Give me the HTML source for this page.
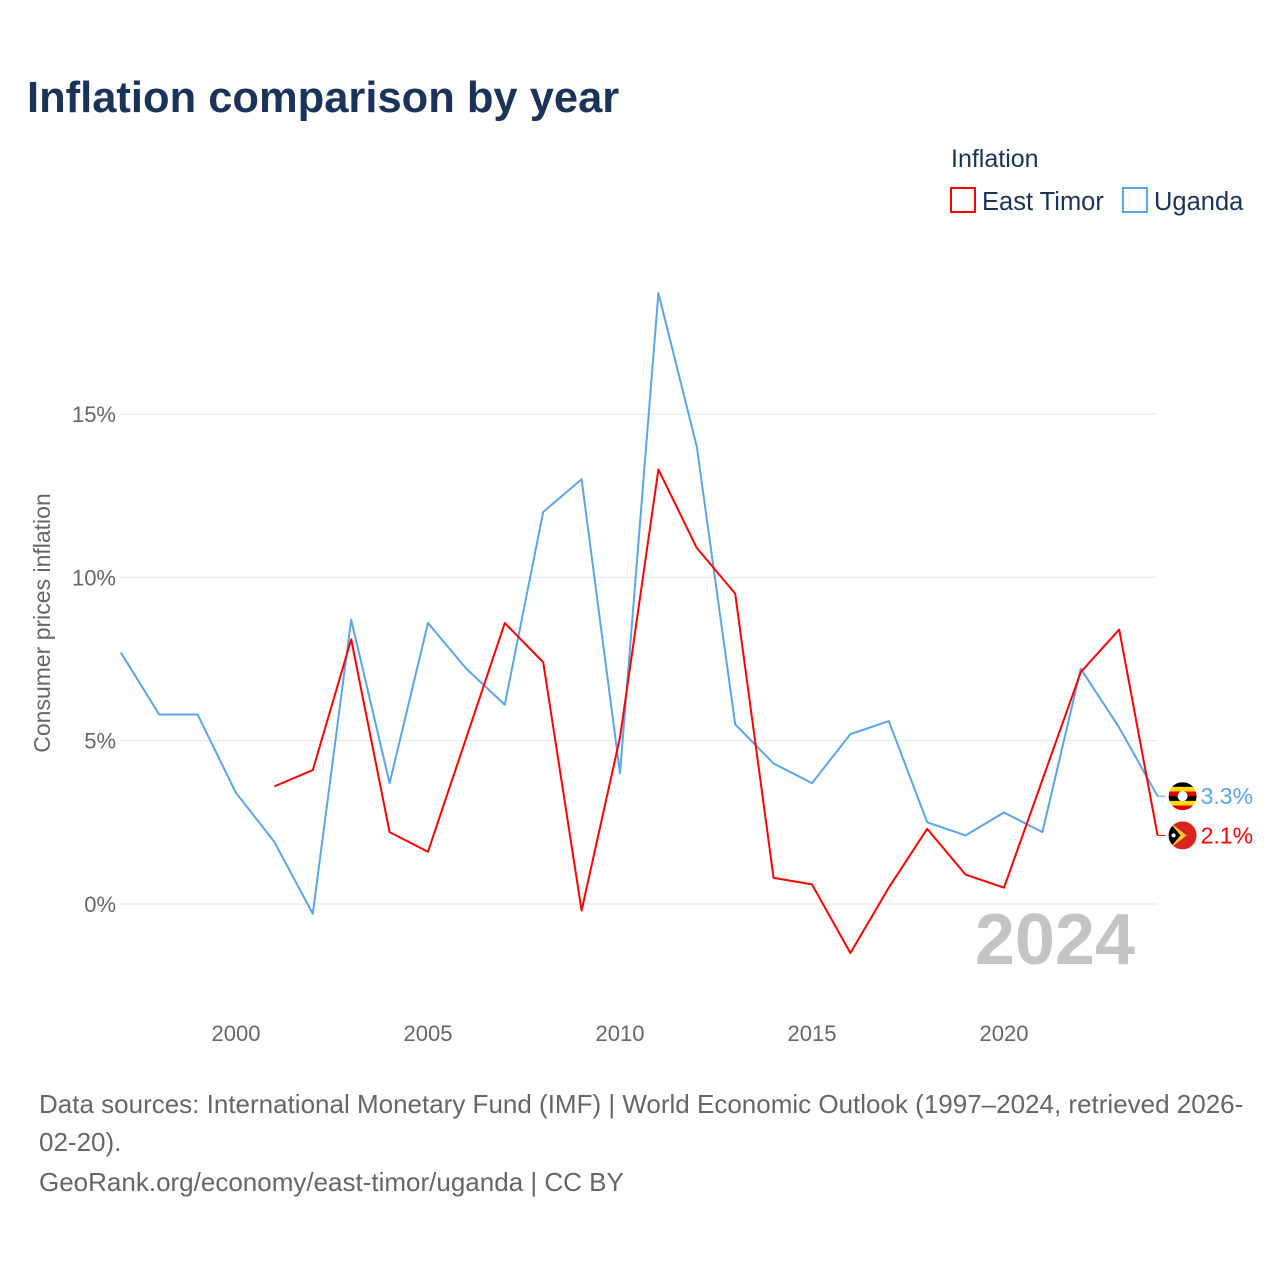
<!DOCTYPE html>
<html><head><meta charset="utf-8">
<style>
body{margin:0;background:#fff;font-family:"Liberation Sans",sans-serif;}
#wrap{position:relative;width:1280px;height:1280px;overflow:hidden;}
</style></head>
<body>
<div id="wrap">
<svg id="chart" width="1280" height="1280">
<text x="27" y="112" font-size="43.5" font-weight="bold" fill="#1b3358">Inflation comparison by year</text>
<text x="951" y="167" font-size="25" fill="#1b3358">Inflation</text>
<g>
<rect x="951" y="188" width="24" height="24" fill="none" stroke="#ff0000" stroke-width="2"/>
<text x="982" y="210" font-size="25.5" fill="#1b3358">East Timor</text></g>
<g>
<rect x="1123" y="188" width="24" height="24" fill="none" stroke="#5aa5ea" stroke-width="2"/>
<text x="1154" y="210" font-size="25.5" fill="#1b3358">Uganda</text></g>
<text transform="translate(50,623) rotate(-90)" text-anchor="middle" font-size="23" fill="#666">Consumer prices inflation</text>
<g id="grid"></g><g id="xt"></g><g id="lines"></g>
<text x="1135" y="964" text-anchor="end" font-size="72" font-weight="bold" fill="#c4c4c4">2024</text>
<text font-size="26" fill="#666"><tspan x="39" y="1113">Data sources: International Monetary Fund (IMF) | World Economic Outlook (1997–2024, retrieved 2026-</tspan><tspan x="39" y="1151">02-20).</tspan><tspan x="39" y="1191">GeoRank.org/economy/east-timor/uganda | CC BY</tspan></text>
</svg>
</div>
<script>
const years=[1997,1998,1999,2000,2001,2002,2003,2004,2005,2006,2007,2008,2009,2010,2011,2012,2013,2014,2015,2016,2017,2018,2019,2020,2021,2022,2023,2024];
const uganda=[7.7,5.8,5.8,3.4,1.9,-0.3,8.7,3.7,8.6,7.2,6.1,12.0,13.0,4.0,18.7,14.0,5.5,4.3,3.7,5.2,5.6,2.5,2.1,2.8,2.2,7.2,5.4,3.3];
const eastTimor=[null,null,null,null,3.6,4.1,8.1,2.2,1.6,5.1,8.6,7.4,-0.2,5.1,13.3,10.9,9.5,0.8,0.6,-1.5,0.5,2.3,0.9,0.5,3.8,7.1,8.4,2.1];
const yTicks=[0,5,10,15];
const xTicks=[2000,2005,2010,2015,2020];
const NS="http://www.w3.org/2000/svg";
const X=y=>236+(y-2000)*38.4;
const Y=v=>904-v*32.67;
function mk(t,a,p){const e=document.createElementNS(NS,t);for(const k in a)e.setAttribute(k,a[k]);p.appendChild(e);return e;}
const grid=document.getElementById('grid'),xt=document.getElementById('xt'),lines=document.getElementById('lines');
yTicks.forEach(v=>{
 const l=mk('line',{x1:120,x2:1157,y1:Y(v),y2:Y(v),stroke:'#e6e6e6','stroke-width':1},grid);
 
 
 const t=mk('text',{x:116,y:Y(v)+8,'text-anchor':'end','font-size':22,fill:'#666'},grid);
 t.textContent=v+'%';
 
 
});
xTicks.forEach(v=>{
 const t=mk('text',{x:X(v),y:1041,'text-anchor':'middle','font-size':22,fill:'#666'},xt);
 t.textContent=v;
 
 
});
function path(vals,color,name){
 let d='';vals.forEach((v,i)=>{if(v===null)return;d+=(d?'L':'M')+X(years[i])+','+Y(v);});
 const p=mk('path',{d:d,fill:'none',stroke:color,'stroke-width':2,'stroke-linejoin':'round'},lines);
 
 
}
path(uganda,'#5aa5ea','uganda-line');
path(eastTimor,'#ff0000','east-timor-line');
function endLabel(v,color,name,flag){
 const y=Y(v),x0=X(2024);
 const g=mk('g',{},lines);
 
 
 mk('line',{x1:x0,x2:x0+8,y1:y,y2:y,stroke:color,'stroke-width':1},g);
 const cx=x0+25;
 if(flag==='ug'){
  const cols=['#000','#fcdc04','#d90000','#000','#fcdc04','#d90000'];
  const cp=mk('clipPath',{id:'cu'},g);mk('circle',{cx:cx,cy:y,r:14},cp);
  cols.forEach((c,i)=>mk('rect',{x:cx-14,y:y-14+i*28/6,width:28,height:28/6+0.5,fill:c,'clip-path':'url(#cu)'},g));
  mk('circle',{cx:cx,cy:y,r:5,fill:'#fff'},g);
 } else {
  const cp=mk('clipPath',{id:'ct'},g);mk('circle',{cx:cx,cy:y,r:14},cp);
  mk('rect',{x:cx-14,y:y-14,width:28,height:28,fill:'#dc241f','clip-path':'url(#ct)'},g);
  mk('polygon',{points:`${cx-14},${y-14} ${cx+4},${y} ${cx-14},${y+14}`,fill:'#ffc726','clip-path':'url(#ct)'},g);
  mk('polygon',{points:`${cx-14},${y-14} ${cx-2},${y} ${cx-14},${y+14}`,fill:'#000','clip-path':'url(#ct)'},g);
  mk('circle',{cx:cx-9,cy:y,r:2,fill:'#fff'},g);
 }
 const t=mk('text',{x:cx+18,y:y+8,'font-size':23,fill:color},g);
 t.textContent=v.toFixed(1)+'%';
}
endLabel(uganda[uganda.length-1],'#5aa5ea','uganda-end-label','ug');
endLabel(eastTimor[eastTimor.length-1],'#ff0000','east-timor-end-label','tl');
</script>
</body></html>
